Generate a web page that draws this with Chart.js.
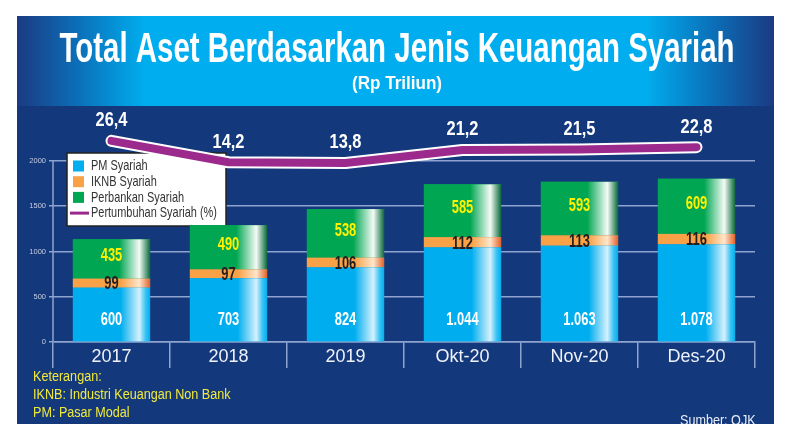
<!DOCTYPE html>
<html><head><meta charset="utf-8">
<script src="https://cdn.jsdelivr.net/npm/chart.js@4/dist/chart.umd.min.js"></script>
<style>html,body{margin:0;padding:0;background:#fff;overflow:hidden}#wrap{width:793px;height:424px;position:relative}</style>
</head><body><div id="wrap"><canvas id="c" width="793" height="424"></canvas></div>
<script>
// ---- data ----
const categories = ['2017', '2018', '2019', 'Okt-20', 'Nov-20', 'Des-20'];
const pmSyariah = [600, 703, 824, 1044, 1063, 1078];
const iknbSyariah = [99, 97, 106, 112, 113, 116];
const perbankanSyariah = [435, 490, 538, 585, 593, 609];
const pertumbuhanSyariah = [26.4, 14.2, 13.8, 21.2, 21.5, 22.8];
const yTicks = [0, 500, 1000, 1500, 2000];
const seriesLabels = ['PM Syariah', 'IKNB Syariah', 'Perbankan Syariah', 'Pertumbuhan Syariah (%)'];
const titleText = 'Total Aset Berdasarkan Jenis Keuangan Syariah';
const subtitleText = '(Rp Triliun)';
const notes = ['Keterangan:', 'IKNB: Industri Keuangan Non Bank', 'PM: Pasar Modal'];
const sourceText = 'Sumber: OJK';

// ---- styles ----
const FONT = '"Liberation Sans", Arial, Helvetica, sans-serif';
const C_PM = '#00aeef', C_IKNB = '#f9a146', C_BANK = '#00a651', C_LINE = '#9c2a8d';
const C_NAVY = '#14387c', C_GRID = '#8ea4cf';
const shine = {
  0: [[0, C_PM], [0.62, C_PM], [0.86, '#d4f1fd'], [0.94, '#3cc3f3'], [1, C_PM]],
  1: [[0, C_IKNB], [0.62, C_IKNB], [0.86, '#ffe6cc'], [1, '#e2622a']],
  2: [[0, C_BANK], [0.6, C_BANK], [0.86, '#f4fbf6'], [1, '#0a6a3a']]
};
const fmtInt = v => v >= 1000 ? Math.floor(v / 1000) + '.' + String(v % 1000).padStart(3, '0') : String(v);
const fmtDec = v => v.toFixed(1).replace('.', ',');

// draw horizontally condensed text
function cText(ctx, t, x, y, sx, align) {
  ctx.save(); ctx.translate(x, y); ctx.scale(sx, 1); ctx.textAlign = align; ctx.fillText(t, 0, 0); ctx.restore();
}
// draw text squeezed to a target width
function fitText(ctx, t, cx, y, w) {
  const sx = w / ctx.measureText(t).width;
  cText(ctx, t, cx, y, sx, 'center');
}

const bgPlugin = {
  id: 'bg',
  beforeDraw(chart) {
    const ctx = chart.ctx;
    ctx.save();
    ctx.fillStyle = '#fff'; ctx.fillRect(0, 0, chart.width, chart.height);
    ctx.fillStyle = C_NAVY; ctx.fillRect(17, 106, 757, 318);
    const g = ctx.createLinearGradient(17, 0, 774, 0);
    g.addColorStop(0, '#1b3a82'); g.addColorStop(0.08, '#0b6fb8'); g.addColorStop(0.17, '#00aeef');
    g.addColorStop(0.83, '#00aeef'); g.addColorStop(0.92, '#0b6fb8'); g.addColorStop(1, '#1b3a82');
    ctx.fillStyle = g; ctx.fillRect(17, 16, 757, 90);
    // title + subtitle
    ctx.fillStyle = '#ffffff'; ctx.textBaseline = 'alphabetic';
    ctx.font = 'bold 42px ' + FONT;
    fitText(ctx, titleText, 397, 62, 675);
    ctx.font = 'bold 18px ' + FONT;
    fitText(ctx, subtitleText, 397, 89, 90);
    ctx.restore();
  },
  beforeDatasetsDraw(chart) {
    const ctx = chart.ctx;
    const ys = chart.scales.y;
    ctx.save();
    ctx.strokeStyle = C_GRID; ctx.lineWidth = 1.5;
    ctx.beginPath();
    ctx.moveTo(chart.chartArea.left, ys.getPixelForValue(yTicks[yTicks.length - 1]));
    ctx.lineTo(chart.chartArea.left, ys.getPixelForValue(0));
    ctx.stroke();
    // legend box
    ctx.fillStyle = '#fff'; ctx.strokeStyle = '#222'; ctx.lineWidth = 1.5;
    ctx.fillRect(67, 153, 159, 73); ctx.strokeRect(67, 153, 159, 73);
    ctx.font = '15px ' + FONT; ctx.textBaseline = 'middle';
    chart.data.datasets.slice(0, 4).forEach((ds, i) => {
      const y = 166 + i * 15.7;
      if (ds.type === 'line') {
        ctx.strokeStyle = ds.borderColor; ctx.lineWidth = 3;
        ctx.beginPath(); ctx.moveTo(70, y); ctx.lineTo(89, y); ctx.stroke();
      } else {
        ctx.fillStyle = ds.backgroundColor; ctx.fillRect(73, y - 5.5, 11, 11);
      }
      ctx.fillStyle = '#333'; cText(ctx, ds.label, 91, y, 0.73, 'left');
    });
    ctx.restore();
  },
  afterDatasetDraw(chart, args) {
    const meta = args.meta;
    if (meta.type !== 'bar') return;
    const stops = shine[args.index];
    const ctx = chart.ctx;
    ctx.save();
    meta.data.forEach(el => {
      const p = el.getProps(['x', 'y', 'base', 'width'], true);
      const l = p.x - p.width / 2;
      const g = ctx.createLinearGradient(l, 0, l + p.width, 0);
      stops.forEach(s => g.addColorStop(s[0], s[1]));
      ctx.fillStyle = g;
      ctx.fillRect(l, Math.min(p.y, p.base), p.width, Math.abs(p.base - p.y));
    });
    ctx.restore();
  },
  afterDatasetsDraw(chart) {
    const ctx = chart.ctx;
    ctx.save();
    ctx.textBaseline = 'middle';
    const m0 = chart.getDatasetMeta(0), m1 = chart.getDatasetMeta(1), m2 = chart.getDatasetMeta(2), m3 = chart.getDatasetMeta(3);
    ctx.font = 'bold 19px ' + FONT;
    m0.data.forEach((el, i) => { ctx.fillStyle = '#fff'; cText(ctx, fmtInt(pmSyariah[i]), el.x, el.base - 21, 0.68, 'center'); });
    m1.data.forEach((el, i) => { ctx.fillStyle = '#231f20'; cText(ctx, fmtInt(iknbSyariah[i]), el.x, (el.y + el.base) / 2 + 1, 0.68, 'center'); });
    m2.data.forEach((el, i) => { ctx.fillStyle = '#fff200'; cText(ctx, fmtInt(perbankanSyariah[i]), el.x, (el.y + el.base) / 2 - 3, 0.68, 'center'); });
    ctx.font = 'bold 20px ' + FONT;
    m3.data.forEach((el, i) => { ctx.fillStyle = '#fff'; cText(ctx, fmtDec(pertumbuhanSyariah[i]), el.x, el.y - 20, 0.82, 'center'); });
    ctx.restore();
  },
  afterDraw(chart) {
    const ctx = chart.ctx;
    ctx.save();
    ctx.font = '14px ' + FONT; ctx.textBaseline = 'middle';
    ctx.fillStyle = '#f2ea3a';
    notes.forEach((t, i) => cText(ctx, t, 33, 377 + i * 18, 0.9, 'left'));
    ctx.fillStyle = '#e8eef8';
    cText(ctx, sourceText, 680, 421, 0.9, 'left');
    ctx.restore();
  }
};

new Chart(document.getElementById('c'), {
  data: {
    labels: categories,
    datasets: [
      { type: 'bar', label: seriesLabels[0], data: pmSyariah, backgroundColor: C_PM, order: 2, barPercentage: 0.66, categoryPercentage: 1 },
      { type: 'bar', label: seriesLabels[1], data: iknbSyariah, backgroundColor: C_IKNB, order: 2, barPercentage: 0.66, categoryPercentage: 1 },
      { type: 'bar', label: seriesLabels[2], data: perbankanSyariah, backgroundColor: C_BANK, order: 2, barPercentage: 0.66, categoryPercentage: 1 },
      { type: 'line', label: seriesLabels[3], data: pertumbuhanSyariah, yAxisID: 'y1', borderColor: C_LINE, borderWidth: 8,
        pointRadius: 0, tension: 0, borderCapStyle: 'round', borderJoinStyle: 'round', order: 0 },
      { type: 'line', label: '_outline', data: pertumbuhanSyariah, yAxisID: 'y1', borderColor: '#ffffff', borderWidth: 12,
        pointRadius: 0, tension: 0, borderCapStyle: 'round', borderJoinStyle: 'round', order: 1 }
    ]
  },
  options: {
    responsive: false,
    animation: false,
    devicePixelRatio: 1,
    layout: { padding: { left: 0, right: 0, top: 112, bottom: 0 } },
    plugins: {
      legend: { display: false },
      tooltip: { enabled: false },
      title: { display: false },
      subtitle: { display: false }
    },
    scales: {
      x: {
        stacked: true, offset: true,
        grid: { offset: true, drawOnChartArea: false, drawTicks: true, tickLength: 26, color: C_GRID, lineWidth: 1.5 },
        border: { display: true, color: C_GRID, width: 1.5 },
        ticks: { color: '#eef2fa', font: { family: FONT, size: 18 }, padding: -22 },
        afterFit(a) { a.height = 82; }
      },
      y: {
        stacked: true, min: 0, max: 2540,
        afterBuildTicks(a) { a.ticks = yTicks.map(v => ({ value: v })); },
        grid: { color: C_GRID, lineWidth: 1.5, drawTicks: true, tickLength: 4 },
        border: { display: false },
        ticks: { color: '#c5cde0', font: { family: FONT, size: 7.5 }, padding: 3, callback: v => String(v) },
        afterFit(a) { a.width = 53; }
      },
      y1: { display: false, min: -88.5, max: 42.9 },
      y2: { position: 'right', display: true, grid: { display: false }, border: { display: false }, ticks: { display: false },
        afterFit(a) { a.width = 38; } }
    }
  },
  plugins: [bgPlugin]
});
</script></body></html>
